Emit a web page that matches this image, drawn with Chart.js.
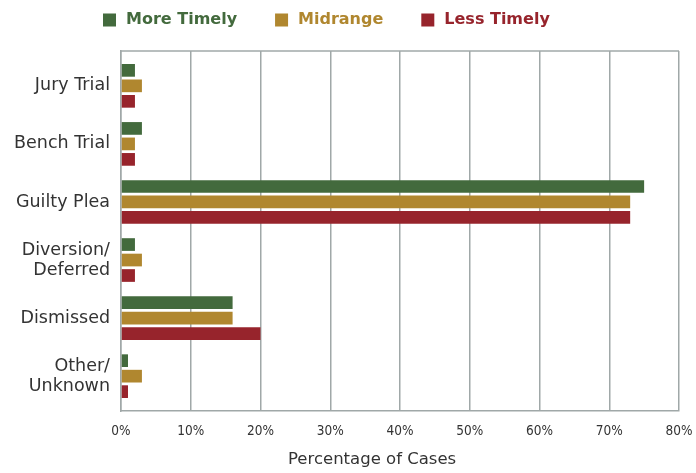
<!DOCTYPE html>
<html>
<head>
<meta charset="utf-8">
<script src="https://cdn.jsdelivr.net/npm/chart.js@4/dist/chart.umd.min.js"></script>
<style>
  html, body { margin: 0; padding: 0; background: #ffffff; }
  #wrap { width: 696px; height: 473px; position: relative; }
</style>
</head>
<body>
<div id="wrap"><canvas id="chart"></canvas></div>
<script>
// Case disposition by timeliness group (percentage of cases)
const categories = [
  'Jury Trial',
  'Bench Trial',
  'Guilty Plea',
  ['Diversion/', 'Deferred'],
  'Dismissed',
  ['Other/', 'Unknown']
];
const seriesNames = ['More Timely', 'Midrange', 'Less Timely'];
const moreTimely = [2, 3, 75, 2, 16, 1];
const midrange   = [3, 2, 73, 3, 16, 3];
const lessTimely = [2, 2, 73, 2, 20, 1];
const xTicks = [0, 10, 20, 30, 40, 50, 60, 70, 80];
const axisTitle = 'Percentage of Cases';
const seriesColors = ['#436a3d', '#b0872f', '#97242c'];

const FONT = '"DejaVu Sans", sans-serif';
const FONT_NARROW = '"DejaVu Sans Condensed", "DejaVu Sans", sans-serif';
const TEXT = '#333333';
const GRID = '#a0a8a8';

function toPoints(values) {
  return values.map((v, i) => ({ x: v, y: i }));
}

// frame line along the top of the plot area, plus the x-axis title
const framePlugin = {
  id: 'frame',
  afterDraw(chart) {
    const a = chart.chartArea;
    const ctx = chart.ctx;
    ctx.save();
    ctx.strokeStyle = GRID;
    ctx.lineWidth = 1.5;
    ctx.beginPath();
    ctx.moveTo(a.left, a.top);
    ctx.lineTo(a.right, a.top);
    ctx.stroke();

    ctx.fillStyle = TEXT;
    ctx.font = '16.5px ' + FONT;
    ctx.textAlign = 'center';
    ctx.textBaseline = 'middle';
    ctx.fillText(axisTitle, a.left + a.width * 0.45, chart.height - 13);
    ctx.restore();
  }
};

// legend row with coloured squares and coloured bold labels
const legendRow = {
  id: 'legendRow',
  afterDraw(chart) {
    const ctx = chart.ctx;
    const a = chart.chartArea;
    ctx.save();
    ctx.font = 'bold 16px ' + FONT;
    ctx.textBaseline = 'middle';
    ctx.textAlign = 'left';
    let x = a.left - 18;
    const cy = 20;
    chart.data.datasets.forEach((ds) => {
      ctx.fillStyle = ds.backgroundColor;
      ctx.fillRect(x, cy - 6.5, 13, 13);
      x += 23;
      ctx.fillText(ds.label, x, cy);
      x += ctx.measureText(ds.label).width + 38;
    });
    ctx.restore();
  }
};

new Chart(document.getElementById('chart'), {
  type: 'bar',
  data: {
    datasets: [
      { label: seriesNames[0], data: toPoints(moreTimely), backgroundColor: seriesColors[0] },
      { label: seriesNames[1], data: toPoints(midrange),   backgroundColor: seriesColors[1] },
      { label: seriesNames[2], data: toPoints(lessTimely), backgroundColor: seriesColors[2] }
    ]
  },
  options: {
    indexAxis: 'y',
    responsive: true,
    maintainAspectRatio: false,
    animation: false,
    categoryPercentage: 0.8,
    barPercentage: 0.82,
    layout: { padding: { top: 51, right: 17, left: 0, bottom: 0 } },
    plugins: {
      legend: { display: false },
      tooltip: { enabled: false }
    },
    scales: {
      x: {
        type: 'linear',
        min: xTicks[0],
        max: xTicks[xTicks.length - 1],
        afterBuildTicks(scale) { scale.ticks = xTicks.map(v => ({ value: v })); },
        grid: { color: GRID, lineWidth: 1.5, drawTicks: false },
        border: { color: GRID, width: 1.5 },
        ticks: {
          padding: 12,
          color: TEXT,
          font: { family: FONT_NARROW, size: 13.5 },
          callback: (v) => v + '%'
        },
        afterFit(scale) {
          scale.height = 62;
          scale.paddingLeft = 0;
          scale.paddingRight = 0;
        }
      },
      y: {
        type: 'linear',
        reverse: true,
        offset: false,
        min: -0.6,
        max: 5.6,
        grid: { display: false, drawTicks: false },
        border: { color: GRID, width: 1.5 },
        ticks: {
          stepSize: 1,
          includeBounds: false,
          padding: 11,
          color: TEXT,
          font: { family: FONT, size: 17.5, lineHeight: 1.15 },
          callback: (v) => categories[v]
        },
        afterFit(scale) {
          scale.width = 121;
          scale.paddingTop = 0;
          scale.paddingBottom = 0;
        }
      }
    }
  },
  plugins: [framePlugin, legendRow]
});
</script>
</body>
</html>
